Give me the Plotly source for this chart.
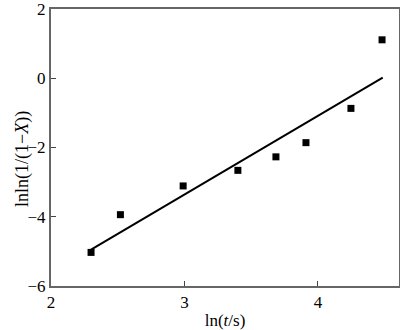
import plotly.graph_objects as go

x_data = [2.30, 2.52, 2.99, 3.40, 3.685, 3.91, 4.247, 4.48]
y_data = [-5.03, -3.94, -3.11, -2.66, -2.27, -1.86, -0.87, 1.11]
fit_x = [2.30, 4.485]
fit_y = [-4.95, 0.02]

x_ticks = [2, 3, 4]
y_ticks = [-6, -4, -2, 0, 2]

fig = go.Figure()
fig.add_trace(go.Scatter(x=fit_x, y=fit_y, mode="lines",
                         line=dict(color="black", width=2), showlegend=False))
fig.add_trace(go.Scatter(x=x_data, y=y_data, mode="markers",
                         marker=dict(symbol="square", size=7, color="black"),
                         showlegend=False))

font = dict(family="Liberation Serif, Times New Roman, serif", size=17, color="black")
axis_common = dict(showline=True, linecolor="#666", linewidth=2, mirror=True,
                   ticks="inside", ticklen=5, tickcolor="#444", tickwidth=1,
                   showgrid=False, zeroline=False, tickfont=font,
                   ticklabeloverflow="allow", automargin=False)

fig.update_xaxes(range=[2, 4.607], tickvals=x_ticks,
                 title=dict(text="ln(<i>t</i>/s)", font=font, standoff=6),
                 **axis_common)
fig.update_yaxes(range=[-6, 2.0001], tickvals=y_ticks,
                 ticktext=[str(v).replace("-", "\u2212") for v in y_ticks],
                 **axis_common)

fig.add_annotation(text="lnln(1/(1\u2212<i>X</i>))", xref="paper", yref="paper",
                   x=-0.118, y=0.46, textangle=-90, showarrow=False,
                   font=dict(family="Liberation Serif, Times New Roman, serif",
                             size=18, color="black"))

fig.update_layout(width=400, height=330, margin=dict(l=51, r=1, t=9, b=44),
                  plot_bgcolor="white", paper_bgcolor="white", font=font)

fig.write_html("out.html")
